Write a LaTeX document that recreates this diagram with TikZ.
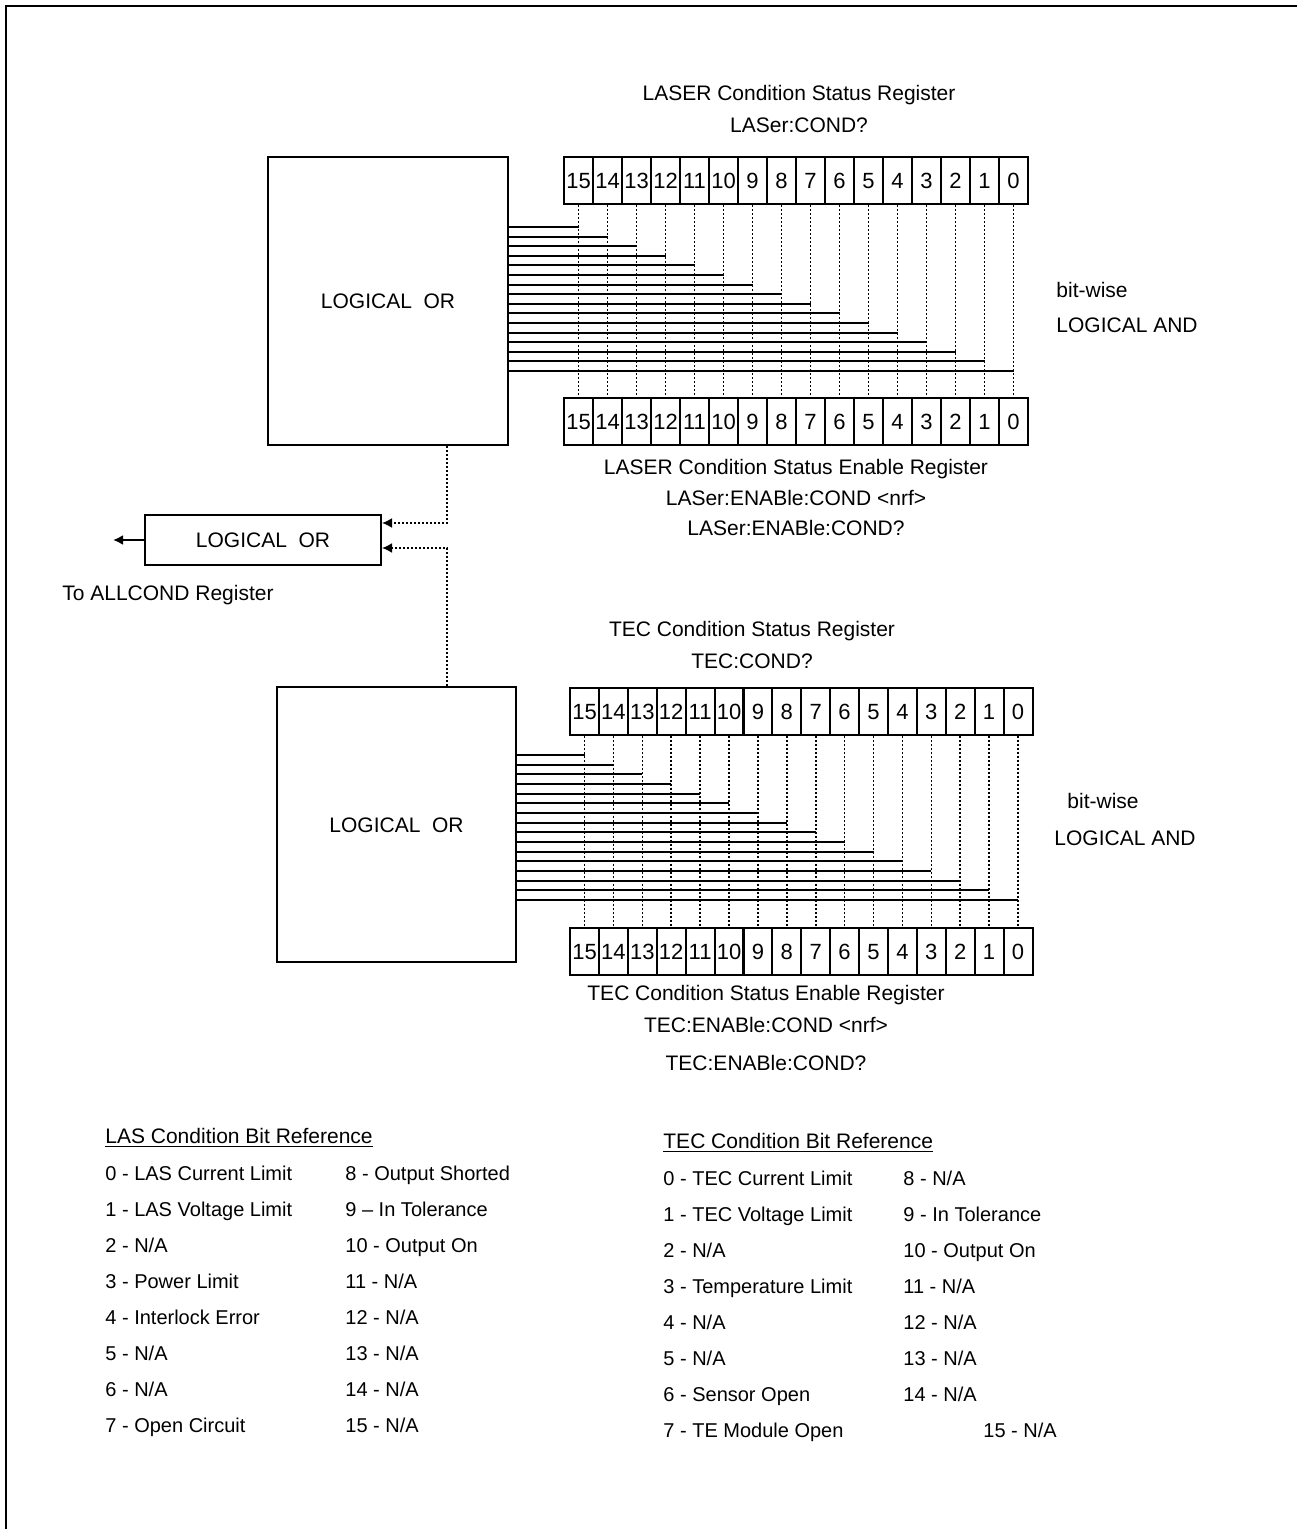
\documentclass[tikz,border=0pt]{standalone}
\usepackage{fontspec}
\setmainfont{Liberation Sans}
\usetikzlibrary{arrows.meta}
\tikzset{
  cell/.style={draw, line width=1pt, minimum width=14.5pt, minimum height=23.5pt, inner sep=0pt, text height=8pt, text depth=0pt, font=\fontsize{11}{12}\selectfont},
  orbox/.style={draw, line width=1pt, inner sep=0pt, text height=7.6pt, text depth=0pt, font=\fontsize{10.5}{12}\selectfont},
  tap/.style={dash pattern=on 1pt off 1pt, line width=0.8pt},
  wire/.style={line width=1pt},
  link/.style={dash pattern=on 1pt off 1pt, line width=0.9pt, -{Latex[length=5pt,width=5pt]}},
  lbl/.style={inner sep=0pt, text height=7.6pt, text depth=2pt, font=\fontsize{10.5}{12}\selectfont},
  legend/.style={inner sep=0pt, anchor=west, text height=7.3pt, text depth=2pt, font=\fontsize{10}{12}\selectfont},
}
\begin{document}
\begin{tikzpicture}[x=0.5pt, y=-0.5pt]
\useasboundingbox (0,0) rectangle (1297,1529);
\draw[line width=1.2pt] (6,1529) -- (6,6) -- (1297,6);

% LASER registers
\node[lbl] (lasttl) at (799,95) {LASER Condition Status Register};
\node[lbl] (lasq) at (799,127) {LASer:COND?};
\node[orbox, minimum width=120pt, minimum height=144pt] (lor) at (388,301) {LOGICAL~~OR};
\foreach \i in {15,14,...,0} {
  \pgfmathsetmacro\cx{578.5+(15-\i)*29}
  \pgfmathsetmacro\hy{round(227+(15-\i)*9.6)}
  \node[cell] (lc\i) at (\cx,181) {\i};
  \node[cell] (le\i) at (\cx,421.5) {\i};
  \coordinate (lh\i) at (0,\hy);
  \draw[tap] (lc\i.south) -- (le\i.north);
  \draw[wire] (lor.east |- lh\i) -- (lc\i |- lh\i);
}
\node[lbl] (lasbw) at (1092,292) {bit-wise};
\node[lbl] (lasand) at (1127,327) {LOGICAL AND};
\node[lbl] (lasen) at (796,469) {LASER Condition Status Enable Register};
\node[lbl] (lasens) at (796,500) {LASer:ENABle:COND <nrf>};
\node[lbl] (lasenq) at (796,530) {LASer:ENABle:COND?};

% summary OR
\node[orbox, minimum width=118pt, minimum height=25pt] (or) at (263,540) {LOGICAL~~OR};
\coordinate (allc) at (113,540);
\draw[wire,-{Latex[length=5pt,width=5pt]}] (or.west) -- (allc);
\node[lbl] (alltxt) at (168,595) {To ALLCOND Register};

% TEC registers
\node[lbl] (tecttl) at (752,631) {TEC Condition Status Register};
\node[lbl] (tecq) at (752,663) {TEC:COND?};
\node[orbox, minimum width=119.5pt, minimum height=137.5pt] (tor) at (396.5,824.5) {LOGICAL~~OR};
\foreach \i in {15,14,...,0} {
  \pgfmathsetmacro\cx{584.5+(15-\i)*28.9}
  \pgfmathsetmacro\hy{round(755+(15-\i)*9.67)}
  \node[cell] (tc\i) at (\cx,711) {\i};
  \node[cell] (te\i) at (\cx,951) {\i};
  \coordinate (th\i) at (0,\hy);
  \draw[tap] (tc\i.south) -- (te\i.north);
  \draw[wire] (tor.east |- th\i) -- (tc\i |- th\i);
}
\node[lbl] (tecbw) at (1103,803) {bit-wise};
\node[lbl] (tecand) at (1125,840) {LOGICAL AND};
\node[lbl] (tecen) at (766,995) {TEC Condition Status Enable Register};
\node[lbl] (tecens) at (766,1027) {TEC:ENABle:COND <nrf>};
\node[lbl] (tecenq) at (766,1065) {TEC:ENABle:COND?};

% links into summary OR
\coordinate (j1) at (447,523);
\coordinate (j2) at (447,548);
\draw[link] (lor.south -| j1) -- (j1) -- (or.east |- j1);
\draw[link] (tor.north -| j2) -- (j2) -- (or.east |- j2);

% bit reference lists
\node[legend, font=\fontsize{10.5}{12}\selectfont] (lasref) at (105,1138) {\underline{LAS Condition Bit Reference}};
\foreach \t [count=\k from 0] in {0 - LAS Current Limit, 1 - LAS Voltage Limit, 2 - N/A, 3 - Power Limit, 4 - Interlock Error, 5 - N/A, 6 - N/A, 7 - Open Circuit}
  \node[legend] (lasa\k) at (105,{1175+\k*36}) {\t};
\foreach \t [count=\k from 0] in {8 - Output Shorted, 9 -- In Tolerance, 10 - Output On, 11 - N/A, 12 - N/A, 13 - N/A, 14 - N/A, 15 - N/A}
  \node[legend] (lasb\k) at (345,{1175+\k*36}) {\t};

\node[legend, font=\fontsize{10.5}{12}\selectfont] (tecref) at (663,1143) {\underline{TEC Condition Bit Reference}};
\foreach \t [count=\k from 0] in {0 - TEC Current Limit, 1 - TEC Voltage Limit, 2 - N/A, 3 - Temperature Limit, 4 - N/A, 5 - N/A, 6 - Sensor Open, 7 - TE Module Open}
  \node[legend] (teca\k) at (663,{1180+\k*36}) {\t};
\foreach \t [count=\k from 0] in {8 - N/A, 9 - In Tolerance, 10 - Output On, 11 - N/A, 12 - N/A, 13 - N/A, 14 - N/A}
  \node[legend] (tecb\k) at (903,{1180+\k*36}) {\t};
\node[legend] (tecb7) at (983,1432) {15 - N/A};
\end{tikzpicture}
\end{document}
